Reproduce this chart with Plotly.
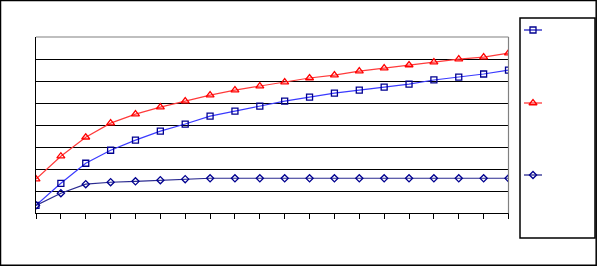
import plotly.graph_objects as go

W, H = 597, 266

categories = list(range(1, 21))
series_square = [0.36, 1.36, 2.27, 2.86, 3.32, 3.73, 4.05, 4.41, 4.64, 4.86,
                 5.09, 5.27, 5.45, 5.59, 5.73, 5.86, 6.05, 6.18, 6.32, 6.50]
series_triangle = [1.55, 2.59, 3.45, 4.09, 4.50, 4.82, 5.09, 5.36, 5.59, 5.77,
                   5.95, 6.14, 6.27, 6.45, 6.59, 6.73, 6.86, 7.00, 7.09, 7.27]
series_diamond = [0.36, 0.91, 1.32, 1.41, 1.45, 1.50, 1.55, 1.59, 1.59, 1.59,
                  1.59, 1.59, 1.59, 1.59, 1.59, 1.59, 1.59, 1.59, 1.59, 1.59]
y_gridvals = [1, 2, 3, 4, 5, 6, 7]

styles = [
    (series_square, "#3a3aff", "#000090", "square-open", 6),
    (series_triangle, "#ff3a3a", "#ff0000", "triangle-up-open", 7),
    (series_diamond, "#2a2a90", "#000090", "diamond-open", 5.5),
]

# plot area in pixels
L, R, T, B = 36, 508.5, 37, 213.3
# legend box in pixels
LL, LR, LT, LB = 520, 595, 18, 238
legend_y = [30, 103, 175]

fig = go.Figure()
for (vals, lc, mc, sym, ms) in styles:
    fig.add_trace(go.Scatter(
        x=categories, y=vals, mode="lines+markers",
        line=dict(color=lc, width=1.2),
        marker=dict(symbol=sym, size=ms, color=mc, line=dict(color=mc, width=1.3)),
        xaxis="x", yaxis="y", showlegend=False, hoverinfo="skip"))

# legend keys drawn in a helper axis laid over the legend box
for (vals, lc, mc, sym, ms), ly in zip(styles, legend_y):
    fig.add_trace(go.Scatter(
        x=[524, 542], y=[ly, ly], mode="lines",
        line=dict(color=lc if lc != "#3a3aff" else "#2020c0", width=1.3),
        xaxis="x2", yaxis="y2", showlegend=False, hoverinfo="skip"))
    fig.add_trace(go.Scatter(
        x=[533], y=[ly], mode="markers",
        marker=dict(symbol=sym, size=ms, color=mc, line=dict(color=mc, width=1.3)),
        xaxis="x2", yaxis="y2", showlegend=False, hoverinfo="skip"))

fig.update_layout(
    width=W, height=H,
    margin=dict(l=0, r=0, t=0, b=0),
    paper_bgcolor="white", plot_bgcolor="white",
    xaxis=dict(domain=[L / W, R / W], range=[1, 20], tickvals=categories,
               showticklabels=False, ticks="outside", ticklen=5, tickcolor="black",
               tickwidth=1, showgrid=False, zeroline=False,
               showline=True, linecolor="black", linewidth=1),
    yaxis=dict(domain=[(H - B) / H, (H - T) / H], range=[0, 8], tickvals=y_gridvals,
               showticklabels=False, ticks="", showgrid=True, gridcolor="black",
               gridwidth=1, zeroline=False,
               showline=True, linecolor="black", linewidth=1),
    xaxis2=dict(domain=[LL / W, LR / W], range=[LL, LR], visible=False, anchor="y2"),
    yaxis2=dict(domain=[(H - LB) / H, (H - LT) / H], range=[LB, LT], visible=False, anchor="x2"),
    shapes=[
        dict(type="line", xref="x domain", yref="y domain", x0=0, x1=1, y0=1, y1=1,
             line=dict(color="#808080", width=1.2)),
        dict(type="line", xref="x domain", yref="y domain", x0=1, x1=1, y0=0, y1=1,
             line=dict(color="#808080", width=1.2)),
        dict(type="rect", xref="paper", yref="paper",
             x0=LL / W, x1=LR / W, y0=(H - LB) / H, y1=(H - LT) / H,
             line=dict(color="black", width=1.5)),
        dict(type="rect", xref="paper", yref="paper",
             x0=0.5 / W, x1=(W - 0.8) / W, y0=0.8 / H, y1=(H - 0.5) / H,
             line=dict(color="black", width=1.5)),
    ],
)

fig.write_html("out.html")
